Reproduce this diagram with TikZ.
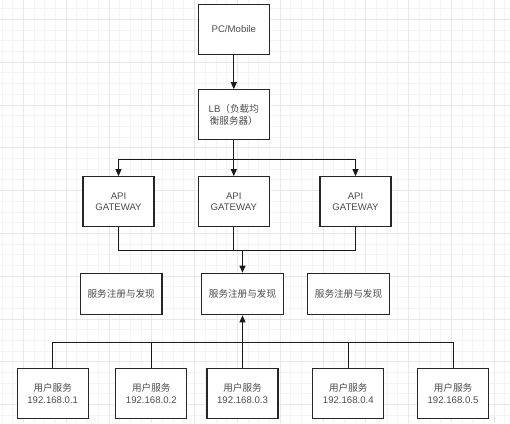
\documentclass[tikz,border=0pt]{standalone}
\usepackage{fontspec}
\setmainfont{Liberation Sans}
\newfontfamily\cjk{Noto Sans CJK SC}
\usetikzlibrary{arrows.meta}

\begin{document}
\begin{tikzpicture}[x=1pt,y=-1pt,
  box/.style={draw=black!85,line width=1.2pt,fill=white,minimum width=71pt,minimum height=50pt,inner sep=0pt,align=center,text=black!70,font=\fontsize{9.6}{11.4}\selectfont},
  regbox/.style={box,minimum width=81.7pt,minimum height=41.4pt},
  link/.style={line width=1pt,black!90},
  arr/.style={link,-{Triangle[length=7pt,width=6pt]}},
  gridminor/.style={gray!9,line width=0.8pt},
  gridmajor/.style={gray!18,line width=0.8pt}]
            \useasboundingbox (0,0) rectangle (510,423);
            % background grid
            \foreach \x in {1.9,12.6,...,510}{
                \draw[gridminor] (\x,0)--(\x,423);
            }
            \foreach \y in {8.6,19.3,...,423}{
                \draw[gridminor] (0,\y)--(510,\y);
            }
            \foreach \x in {23.3,66.1,...,510}{
                \draw[gridmajor] (\x,0)--(\x,423);
            }
            \foreach \y in {19.3,62.1,...,423}{
                \draw[gridmajor] (0,\y)--(510,\y);
            }
            % nodes
            \node[box] (pc) at (233.8,29.5) {PC/Mobile};
            \node[box] (lb) at (233.8,114.8) {LB{\cjk（负载均}\\{\cjk 衡服务器）}};
            \node[box] (gw1) at (118.5,201.7) {API\\GATEWAY};
            \node[box] (gw2) at (233.8,201.7) {API\\GATEWAY};
            \node[box] (gw3) at (355.5,201.7) {API\\GATEWAY};
            \node[regbox] (reg1) at (121.2,294) {\cjk 服务注册与发现};
            \node[regbox] (reg2) at (242.5,294) {\cjk 服务注册与发现};
            \node[regbox] (reg3) at (348.5,294) {\cjk 服务注册与发现};
            \foreach \n/\x in {1/52.7,2/151.3,3/242.5,4/348.3,5/453}{
                \node[box] (user\n) at (\x,393.5) {{\cjk 用户服务}\\192.168.0.\n};
            }
            \coordinate (merge) at (242.5,250);
            \coordinate (bus) at (242.5,342.3);
            % connectors
            \draw[arr] (pc)--(lb);
            \foreach \g in {gw1,gw2,gw3}{
                \draw[arr] (lb.south)--++(0,19)-|(\g.north);
                \draw[link] (\g.south)|-(merge);
            }
            \draw[arr] (merge)--(reg2.north);
            \foreach \n in {1,...,5}{
                \draw[link] (user\n.north)|-(bus);
            }
            \draw[arr] (bus)--(reg2.south);
\end{tikzpicture}
\end{document}
